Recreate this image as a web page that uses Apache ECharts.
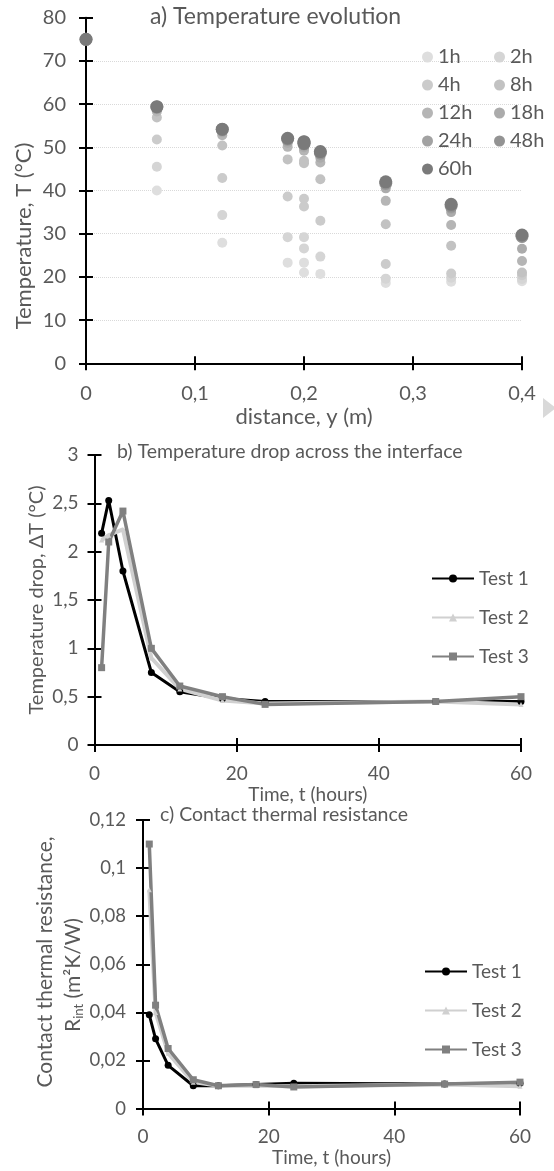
<!DOCTYPE html>
<html>
<head>
<meta charset="utf-8">
<script src="https://cdn.jsdelivr.net/npm/echarts@6/dist/echarts.min.js"></script>
<style>
html, body { margin: 0; padding: 0; background: #fff; }
#chart { width: 554px; height: 1171px; }
</style>
</head>
<body>
<div id="chart"></div>
<script>
// a) temperature profiles, one list per time (two sensors sit at 0.2 m, one each side of the interface)
const distances = [0, 0.065, 0.125, 0.185, 0.2, 0.2, 0.215, 0.275, 0.335, 0.4];
const hourNames = ["1h", "2h", "4h", "8h", "12h", "18h", "24h", "48h", "60h"];
const temp1h  = [75, 40.0, 27.9, 23.3, 23.3, 21.0, 20.7, 18.6, 18.9, 19.0];
const temp2h  = [75, 45.5, 34.3, 29.2, 29.2, 26.6, 24.7, 19.6, 19.8, 19.5];
const temp4h  = [75, 51.8, 42.9, 38.6, 38.1, 36.3, 33.0, 23.0, 20.8, 20.4];
const temp8h  = [75, 56.9, 50.4, 47.2, 46.9, 46.3, 42.6, 32.2, 27.2, 21.0];
const temp12h = [75, 58.3, 52.8, 50.1, 49.7, 49.2, 46.5, 37.6, 32.0, 23.7];
const temp18h = [75, 58.8, 53.5, 51.0, 50.5, 50.0, 47.6, 40.5, 35.0, 26.5];
const temp24h = [75, 59.0, 53.9, 51.5, 50.9, 50.4, 48.2, 41.2, 35.8, 29.0];
const temp48h = [75, 59.3, 54.1, 51.9, 51.2, 50.8, 48.7, 41.7, 36.4, 29.4];
const temp60h = [75, 59.4, 54.2, 52.1, 51.3, 50.9, 49.0, 42.0, 36.8, 29.7];
const tempRows = [temp1h, temp2h, temp4h, temp8h, temp12h, temp18h, temp24h, temp48h, temp60h];

// b) and c) tests
const hours = [1, 2, 4, 8, 12, 18, 24, 48, 60];
const testNames = ["Test 1", "Test 2", "Test 3"];
const dropTest1 = [2.19, 2.53, 1.80, 0.75, 0.55, 0.48, 0.45, 0.45, 0.45];
const dropTest2 = [2.12, 2.17, 2.23, 0.90, 0.58, 0.46, 0.43, 0.45, 0.42];
const dropTest3 = [0.80, 2.10, 2.42, 1.00, 0.61, 0.50, 0.42, 0.45, 0.50];
const resTest1 = [0.039, 0.029, 0.018, 0.0095, 0.0095, 0.0100, 0.0105, 0.0102, 0.0105];
const resTest2 = [0.091, 0.040, 0.023, 0.0110, 0.0095, 0.0095, 0.0093, 0.0100, 0.0093];
const resTest3 = [0.110, 0.043, 0.025, 0.0120, 0.0095, 0.0100, 0.0090, 0.0102, 0.0110];

const textColor = "#595959";
const font = "Lato";
const dotColors = ["#dedede", "#d5d5d5", "#cbcbcb", "#c2c2c2", "#b5b5b5", "#ababab", "#a2a2a2", "#939393", "#7a7a7a"];
const dotSizes = [10, 10, 10, 10, 10, 10, 10, 13, 13];
const testStyles = [
    { color: "#000000", width: 3, symbol: "circle", size: 7 },
    { color: "#d0d0d0", width: 4, symbol: "triangle", size: 5 },
    { color: "#808080", width: 3.5, symbol: "rect", size: 7 },
];

const comma = (digits) => (v) => (v === 0 ? "0" : String(parseFloat(v.toFixed(digits))).replace(".", ","));

function mainAxis(grid, pos, min, max, step, fmt, fontSize, margin, extra) {
    return Object.assign({
        type: "value",
        gridIndex: grid,
        position: pos,
        min: min,
        max: max,
        interval: step,
        axisLine: { show: true, onZero: false, lineStyle: { color: "#000", width: 2 } },
        axisTick: { show: true, inside: false, length: 7, lineStyle: { color: "#000", width: 2 } },
        axisLabel: { color: textColor, fontFamily: font, fontSize: fontSize, margin: margin, formatter: fmt },
        splitLine: { show: false },
    }, extra || {});
}

// second axis only for the inner half of the crossing ticks
function crossAxis(grid, pos, min, max, step) {
    return {
        type: "value",
        gridIndex: grid,
        position: pos,
        min: min,
        max: max,
        interval: step,
        axisLine: { show: false },
        axisTick: { show: true, inside: true, length: 7, lineStyle: { color: "#000", width: 2 } },
        axisLabel: { show: false },
        splitLine: { show: false },
    };
}

const series = [];
hourNames.forEach((name, i) => {
    series.push({
        name: name,
        type: "scatter",
        xAxisIndex: 0,
        yAxisIndex: 0,
        symbolSize: dotSizes[i],
        itemStyle: { color: dotColors[i], opacity: 1 },
        data: distances.map((d, k) => [d, tempRows[i][k]]),
    });
});

const dropRows = [dropTest1, dropTest2, dropTest3];
const resRows = [resTest1, resTest2, resTest3];
function lineSeries(rows, axisIndex) {
    rows.forEach((row, i) => {
        const st = testStyles[i];
        series.push({
            name: testNames[i],
            type: "line",
            xAxisIndex: axisIndex,
            yAxisIndex: axisIndex,
            symbol: st.symbol,
            symbolSize: st.size,
            showAllSymbol: true,
            lineStyle: { color: st.color, width: st.width },
            itemStyle: { color: st.color },
            data: hours.map((h, k) => [h, row[k]]),
        });
    });
}
lineSeries(dropRows, 2);
lineSeries(resRows, 4);

const legendText = { color: textColor, fontFamily: font, fontSize: 19, lineHeight: 18 };
const titleText = (size) => ({ color: textColor, fontFamily: font, fontSize: size, fontWeight: "normal" });
const nameText = (size) => ({ color: textColor, fontFamily: font, fontSize: size });

const option = {
    animation: false,
    textStyle: { fontFamily: font },
    title: [
        { text: "a) Temperature evolution", left: 150, top: 5, padding: 0, textStyle: titleText(23) },
        { text: "b) Temperature drop across the interface", left: 117, top: 442, padding: 0, textStyle: titleText(19.5) },
        { text: "c) Contact thermal resistance", left: 160, top: 805, padding: 0, textStyle: titleText(19.5) },
    ],
    legend: [
        { data: ["1h", "4h", "12h", "24h", "60h"], orient: "vertical", left: 417, top: 42,
            icon: "circle", itemWidth: 11, itemHeight: 11, itemGap: 8,
            textStyle: { color: textColor, fontFamily: font, fontSize: 20, lineHeight: 20 } },
        { data: ["2h", "8h", "18h", "48h"], orient: "vertical", left: 489, top: 42,
            icon: "circle", itemWidth: 11, itemHeight: 11, itemGap: 8,
            textStyle: { color: textColor, fontFamily: font, fontSize: 20, lineHeight: 20 } },
        { data: testNames, orient: "vertical", left: 426, top: 564,
            itemWidth: 42, itemHeight: 10, itemGap: 20, textStyle: legendText },
        { data: testNames, orient: "vertical", left: 419, top: 957,
            itemWidth: 42, itemHeight: 10, itemGap: 20, textStyle: legendText },
    ],
    grid: [
        { left: 86, right: 32, top: 17.7, height: 345.6 },
        { left: 94.5, right: 33, top: 455, height: 290 },
        { left: 143, right: 34, top: 820, height: 288.6 },
    ],
    xAxis: [
        mainAxis(0, "bottom", 0, 0.4, 0.1, comma(1), 20, 20, {
            name: "distance, y (m)", nameLocation: "middle", nameGap: 43, nameTextStyle: nameText(22),
        }),
        crossAxis(0, "bottom", 0, 0.4, 0.1),
        mainAxis(1, "bottom", 0, 60, 20, comma(0), 19, 19, {
            name: "Time, t (hours)", nameLocation: "middle", nameGap: 40, nameTextStyle: nameText(19),
        }),
        crossAxis(1, "bottom", 0, 60, 20),
        mainAxis(2, "bottom", 0, 60, 20, comma(0), 19, 19, {
            name: "Time, t (hours)", nameLocation: "middle", nameGap: 40, nameTextStyle: nameText(19),
        }),
        crossAxis(2, "bottom", 0, 60, 20),
    ],
    yAxis: [
        mainAxis(0, "left", 0, 80, 10, comma(0), 20, 20, {
            splitLine: { show: true, showMinLine: false, showMaxLine: false,
                lineStyle: { color: "#d9d9d9", type: "dotted", width: 1 } },
        }),
        crossAxis(0, "left", 0, 80, 10),
        mainAxis(1, "left", 0, 3, 0.5, comma(1), 19, 16),
        crossAxis(1, "left", 0, 3, 0.5),
        mainAxis(2, "left", 0, 0.12, 0.02, comma(2), 18.5, 17),
        crossAxis(2, "left", 0, 0.12, 0.02),
    ],
    graphic: [
        { type: "text", x: 24, y: 236, rotation: Math.PI / 2,
            style: { text: "Temperature, T (°C)", fill: textColor, fontFamily: font, fontSize: 22,
                align: "center", verticalAlign: "middle" } },
        { type: "text", x: 37, y: 600, rotation: Math.PI / 2,
            style: { text: "Temperature drop, ΔT (°C)", fill: textColor, fontFamily: font, fontSize: 20,
                align: "center", verticalAlign: "middle" } },
        { type: "text", x: 45, y: 962, rotation: Math.PI / 2,
            style: { text: "Contact thermal resistance,", fill: textColor, fontFamily: font, fontSize: 21,
                align: "center", verticalAlign: "middle" } },
        { type: "text", x: 73, y: 975, rotation: Math.PI / 2,
            style: { text: "{r|R}{s|int}{r| (m²K/W)}", fill: textColor, fontFamily: font, fontSize: 21,
                align: "center", verticalAlign: "middle",
                rich: {
                    r: { fontSize: 21, fontFamily: font, fill: textColor, lineHeight: 24 },
                    s: { fontSize: 13, fontFamily: font, fill: textColor, lineHeight: 24, verticalAlign: "bottom", padding: [7, 0, 0, 0] },
                } } },
        { type: "polygon", shape: { points: [[543, 398], [556, 408], [543, 418]] },
            style: { fill: "#d9d9d9" } },
    ],
    series: series,
};

const chart = echarts.init(document.getElementById("chart"));
chart.setOption(option);
</script>
</body>
</html>
